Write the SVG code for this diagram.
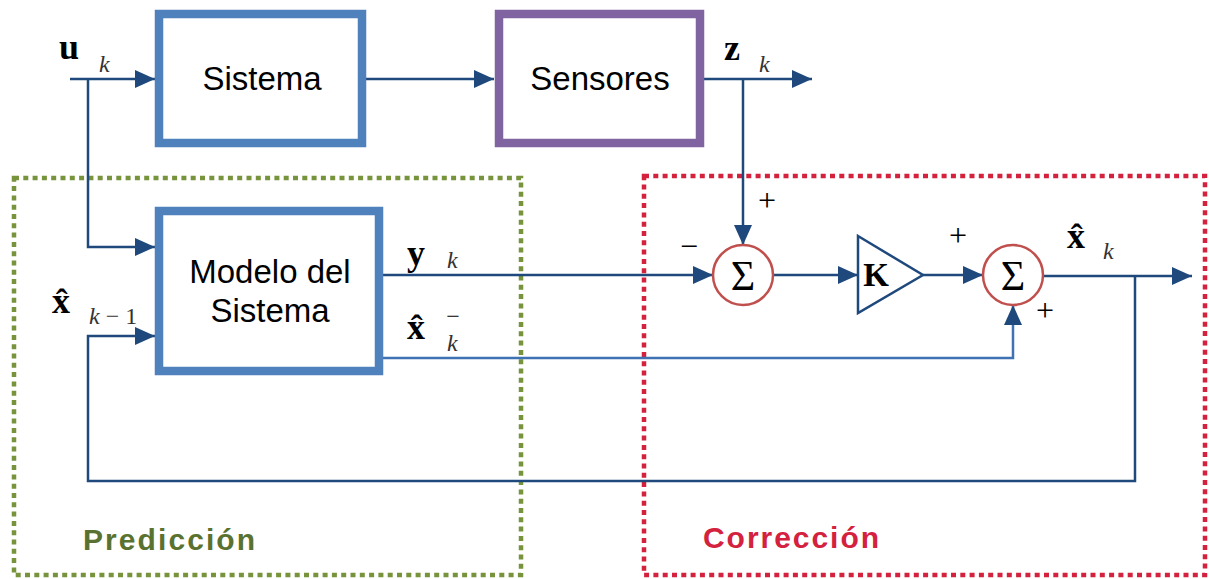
<svg xmlns="http://www.w3.org/2000/svg" width="1209" height="579" viewBox="0 0 1209 579">
<style>
.box{fill:none;stroke-width:8.5}
.lbl{font-family:"Liberation Sans",Arial,sans-serif;font-size:33px;fill:#000;text-anchor:middle}
.m{font-family:"Liberation Serif","Times New Roman",serif;fill:#000}
.mb{font-weight:bold;font-size:36px}
.sub{font-style:italic;font-size:24px;fill:#333}
.sg{font-family:"Liberation Serif","Times New Roman",serif;font-size:42px;text-anchor:middle;fill:#000}
.pm{font-family:"Liberation Serif","Times New Roman",serif;font-size:32px;text-anchor:middle;fill:#000}
.w{fill:none;stroke:#1f497d;stroke-width:2.5}
.w2{fill:none;stroke:#3f72b2;stroke-width:2.5}
.grp{font-family:"Liberation Sans",Arial,sans-serif;font-weight:bold;font-size:30px}
</style>
<defs>
<marker id="ah" markerUnits="userSpaceOnUse" markerWidth="20" markerHeight="18" refX="20" refY="9" orient="auto">
<path d="M0,0 L20,9 L0,18 Z" fill="#1f497d"/>
</marker>
</defs>
<rect width="1209" height="579" fill="#fff"/>
<g id="prediccion">
<rect x="14" y="178" width="507" height="397" fill="none" stroke="#77933c" stroke-width="4.5" stroke-dasharray="5 4.3"/>
<text class="grp" x="83" y="550" fill="#5a7230" textLength="172">Predicción</text>
</g>
<g id="correccion">
<rect x="644" y="176" width="561" height="399" fill="none" stroke="#d4213d" stroke-width="4.5" stroke-dasharray="5 4.3"/>
<text class="grp" x="703" y="548" fill="#d4213d" textLength="176">Corrección</text>
</g>
<g id="connectors">
<path class="w" d="M70,79 H155" marker-end="url(#ah)"/>
<path class="w" d="M88,79 V247 H155" marker-end="url(#ah)"/>
<path class="w" d="M366,79 H494" marker-end="url(#ah)"/>
<path class="w" d="M704,79 H812" marker-end="url(#ah)"/>
<path class="w" d="M743,79 V245" marker-end="url(#ah)"/>
<path class="w" d="M383,275 H713" marker-end="url(#ah)"/>
<path class="w" d="M773,275 H858" marker-end="url(#ah)"/>
<path class="w" d="M923,275 H983" marker-end="url(#ah)"/>
<path class="w" d="M1043,276 H1192" marker-end="url(#ah)"/>
<path class="w2" d="M383,358 H1013 V305" marker-end="url(#ah)"/>
<path class="w" d="M1135,276 V481 H88 V336 H155" marker-end="url(#ah)"/>
</g>
<g id="sistema">
<rect class="box" x="159" y="14" width="203" height="129" stroke="#4f81bd"/>
<text class="lbl" x="262" y="90">Sistema</text>
</g>
<g id="sensores">
<rect class="box" x="499" y="14" width="201" height="129" stroke="#8064a2"/>
<text class="lbl" x="600" y="90">Sensores</text>
</g>
<g id="modelo">
<rect class="box" x="159" y="211" width="220" height="160" stroke="#4f81bd"/>
<text class="lbl" x="270" y="283">Modelo del</text>
<text class="lbl" x="270" y="322">Sistema</text>
</g>
<g id="sum1">
<circle cx="743" cy="275" r="30" fill="#fff" stroke="#c0504d" stroke-width="2.5"/>
<text class="sg" x="743" y="290">Σ</text>
<text class="pm" x="767" y="211">+</text>
<text class="pm" x="689" y="257">−</text>
</g>
<g id="gain">
<path d="M858,236 L923,275 L858,313 Z" fill="#fff" stroke="#1f497d" stroke-width="2.5"/>
<text class="m" x="876" y="286" font-weight="bold" font-size="33" text-anchor="middle">K</text>
</g>
<g id="sum2">
<circle cx="1013" cy="275" r="30" fill="#fff" stroke="#c0504d" stroke-width="2.5"/>
<text class="sg" x="1013" y="290">Σ</text>
<text class="pm" x="958" y="246">+</text>
<text class="pm" x="1045" y="321">+</text>
</g>
<g id="labels">
<text class="m mb" x="59" y="59">u</text>
<text class="m sub" x="99" y="72">k</text>
<text class="m mb" x="724" y="60">z</text>
<text class="m sub" x="759" y="72">k</text>
<text class="m mb" x="407" y="265">y</text>
<text class="m sub" x="447" y="268">k</text>
<text class="m mb" x="407" y="339">x̂</text>
<text class="m" x="453" y="324" font-size="24" text-anchor="middle">−</text>
<text class="m sub" x="447" y="351">k</text>
<text class="m mb" x="52" y="313">x̂</text>
<text class="m sub" x="89" y="324">k <tspan font-style="normal">− 1</tspan></text>
<text class="m mb" x="1067" y="248">x̂</text>
<text class="m sub" x="1103" y="259">k</text>
</g>
</svg>
